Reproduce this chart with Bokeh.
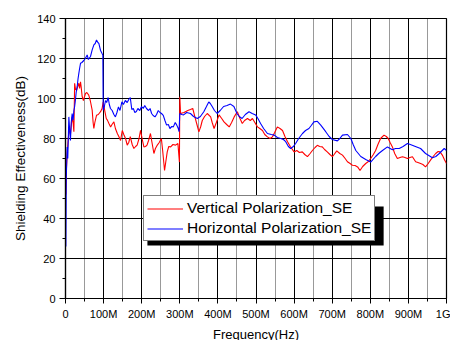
from bokeh.plotting import figure
from bokeh.models import (Range1d, SingleIntervalTicker, Legend, LegendItem,
                          BoxAnnotation)
from bokeh.embed import file_html
from bokeh.resources import INLINE

# ---------------- data (frequency in MHz, SE in dB) ----------------
freq_v = [1, 2.5, 4.4, 6.5, 8.8, 11, 13, 15.5, 17.5, 20, 22, 24, 26, 29, 32, 35, 37, 39.4, 41, 43.8,
          47, 50, 52.5, 56, 61, 65, 70, 72.5, 74.4, 77, 81.4, 86, 92, 96, 99, 103.5, 107, 110, 114,
          118.4, 122, 127, 131, 136, 140, 144.5, 149, 153, 157.6, 162, 166, 170, 175, 179.5, 184,
          188, 193, 197, 201, 205.7, 210, 214, 218, 223, 227, 232, 236, 241, 246, 251.6, 255, 258,
          260, 263, 267, 271, 276, 282, 289, 295, 299, 300, 302, 311, 321, 328, 334, 339.6, 345,
          350, 355, 359, 365, 372, 381, 385, 390, 396, 403, 410, 416, 423, 429.6, 436, 442.7, 451,
          458, 464, 470, 477.6, 485, 490.7, 497, 503.8, 510, 517, 523, 530, 537, 543, 549, 556, 563,
          569.6, 576, 582.8, 590, 600, 607, 614, 621.5, 628, 635, 642, 648, 655, 661, 667, 674, 680,
          687, 694, 700.5, 705, 712, 720, 727, 734, 740, 747, 753, 760, 766.7, 773, 780, 788, 795,
          801, 808, 814, 820, 827, 836, 842, 847, 852, 858, 864, 871, 878, 884.6, 891, 897.5, 904,
          910.6, 919, 925, 932, 938, 945, 952, 958, 965, 971.6, 978, 983, 989, 995, 1000]
se_v = [52, 65, 72.5, 78, 83.4, 84, 82, 87, 90.8, 88, 83.4, 107.6, 105, 104, 106, 107.6, 105, 108.4,
        106, 100.9, 99, 101, 102.5, 103, 101.7, 99, 94.2, 88, 85, 88, 91.6, 92, 93.4, 95, 98.3, 93.4,
        90, 89.2, 87.5, 85.8, 87, 88.3, 85, 82.5, 81, 79, 84, 82, 80, 76.7, 78, 80.9, 77, 75, 76,
        76.7, 80, 84.1, 80, 75.8, 76, 76.7, 79, 82.5, 78, 72.5, 75, 76.7, 78, 80, 74, 68, 64, 68,
        73.3, 76, 75.8, 77, 76.7, 77.5, 68.2, 100.9, 92.5, 93, 94, 94.5, 95, 90.8, 87, 83.3, 86, 89,
        91, 92.5, 90.8, 88, 85, 88, 91.8, 90, 88.3, 87, 85.8, 88, 90.8, 93.4, 90, 87.5, 89, 90, 89,
        90, 88, 85.8, 85, 84, 82, 80.8, 80, 80.8, 83, 85.8, 85, 84, 81, 78.4, 76, 73.3, 74, 73, 73.3,
        72, 70.9, 72.5, 74, 75.5, 76.6, 76, 75.8, 74.5, 73.3, 72, 70.9, 72, 73.8, 72.5, 71.7, 70,
        68.4, 67.5, 66.6, 66.5, 65.8, 64, 66, 67.5, 68.5, 70, 72, 74, 77, 80, 81.7, 81, 80, 78, 75.8,
        72.5, 70, 70.5, 70.9, 70.5, 70, 70.5, 70.9, 68.4, 68, 67.5, 67, 65.8, 67.5, 69.2, 71, 72.5,
        73.5, 73.3, 71.7, 69.2, 67.5]

freq_h = [1, 2, 4.4, 6, 8.8, 11, 13, 15, 17.5, 20, 22, 24, 26, 28, 30.6, 33, 35, 37, 39.4, 43, 48,
          52, 56.9, 60, 65.6, 70, 74.4, 78, 81.4, 85, 87.5, 92, 96, 98, 99, 102, 105, 108, 112, 115,
          118, 122.5, 127, 131, 135, 139, 143, 148, 152, 157, 162, 166, 170, 174, 178, 182, 186, 190,
          195, 199.6, 204, 208, 212.7, 218, 222, 226, 230, 235, 239, 243.5, 248, 252, 256.6, 261,
          265.3, 270, 274, 279, 283, 288, 292, 296, 298, 300, 305, 310, 318, 328, 336, 346, 354, 363,
          370, 376, 380, 385, 391, 398, 406, 415, 424, 433, 442, 450, 456, 463.5, 472, 481.6, 490,
          499, 505, 512, 520, 530, 540, 548, 556, 565, 572, 578, 585, 591, 598, 604, 612, 622, 630,
          639, 645, 652, 661, 670, 683, 692, 700.5, 713.6, 720, 727, 740, 749, 755, 762, 775, 788,
          801, 814, 822, 832, 845, 858, 866, 876, 886, 897.5, 905, 915, 932, 945, 963, 972, 981, 994,
          1000]
se_h = [26, 60, 75.8, 70, 90.8, 84, 79, 88, 92.5, 89, 94, 96, 99.2, 103, 105.9, 110, 112.6, 115,
        117.6, 118, 119, 120, 121.8, 119.5, 121, 124.3, 126.8, 127.5, 129.3, 128, 127.6, 124, 122.5,
        121.8, 94.1, 96, 99, 98, 100.5, 97, 95, 94, 92, 90.8, 93, 95.8, 94, 98.3, 97, 99, 98, 99.5,
        100.5, 94.5, 95, 93, 93.5, 95, 94, 96, 95, 96.5, 95, 94, 95, 92.5, 91.5, 90.8, 92, 94, 93,
        92.5, 91.6, 89, 86.7, 87, 85, 86, 85.8, 88, 86.7, 85, 83.4, 92.5, 92, 91.8, 93, 92.5, 91, 90,
        91, 93.4, 96, 98.3, 97.5, 96, 94, 92.5, 94, 96, 96.5, 97.2, 96, 92.5, 91, 90, 92, 93.4, 92.5,
        91.8, 90, 87.5, 85, 82.5, 82, 81.7, 80.5, 80, 79.5, 78.4, 76, 75, 76, 77.5, 80, 82.5, 84, 85,
        86.5, 88.3, 88.6, 86.7, 83.4, 81, 79.5, 78.8, 80, 81.7, 82, 80, 77, 74, 71, 69.5, 68.2, 71,
        72.5, 74, 75.8, 74.4, 75, 75, 76, 77.5, 77, 76.3, 75, 72.5, 70.4, 71, 72.5, 75, 74]

x_tick_values = [0, 100, 200, 300, 400, 500, 600, 700, 800, 900, 1000]
x_tick_labels = ["0", "100M", "200M", "300M", "400M", "500M", "600M", "700M", "800M", "900M", "1G"]
series_labels = ["Vertical Polarization_SE", "Horizontal Polarization_SE"]

FONT = "Liberation Sans"

p = figure(frame_width=381, frame_height=280, output_backend="svg", toolbar_location=None,
           x_range=Range1d(0, 1000), y_range=Range1d(0, 140),
           min_border_left=65, min_border_right=4, min_border_top=18, min_border_bottom=42)
p.background_fill_color = "white"
p.border_fill_color = "white"
p.outline_line_color = "black"
p.outline_line_width = 1.2

r_v = p.line(freq_v, se_v, line_color="#FF0000", line_width=1.1)
r_h = p.line(freq_h, se_h, line_color="#0000FF", line_width=1.1)

# axes
p.xaxis.ticker = SingleIntervalTicker(interval=100, num_minor_ticks=2)
p.yaxis.ticker = SingleIntervalTicker(interval=20, num_minor_ticks=2)
p.xaxis.major_label_overrides = {v: l for v, l in zip(x_tick_values, x_tick_labels)}
for ax in (p.xaxis[0], p.yaxis[0]):
    ax.axis_line_color = "black"
    ax.axis_line_width = 1.2
    ax.major_tick_line_color = "black"
    ax.minor_tick_line_color = "black"
    ax.major_tick_in = 0
    ax.minor_tick_in = 0
    ax.major_label_text_font = FONT
    ax.major_label_text_font_size = "11px"
    ax.major_label_text_color = "black"
    ax.axis_label_text_font = FONT
    ax.axis_label_text_font_style = "normal"
    ax.axis_label_text_color = "black"
p.xaxis.major_tick_out = 5
p.xaxis.minor_tick_out = 3
p.yaxis.major_tick_out = 6
p.yaxis.minor_tick_out = 3
p.xaxis.major_label_standoff = 4
p.yaxis.major_label_standoff = 4
p.xaxis.axis_label = "Frequency(Hz)"
p.yaxis.axis_label = "Shielding Effectiveness(dB)"
p.xaxis.axis_label_text_font_size = "13px"
p.yaxis.axis_label_text_font_size = "13.5px"
p.xaxis.axis_label_standoff = 4
p.yaxis.axis_label_standoff = 6

# grids
p.xgrid.grid_line_color = "black"
p.xgrid.grid_line_width = 1
p.xgrid.grid_line_alpha = 1
p.xgrid.minor_grid_line_color = "black"
p.xgrid.minor_grid_line_dash = "1 1"
p.xgrid.minor_grid_line_alpha = 0.8
p.ygrid.grid_line_color = "black"
p.ygrid.grid_line_width = 1
p.ygrid.grid_line_alpha = 1

# legend shadow
shadow = BoxAnnotation(left=215, right=835, top=46, bottom=26.5,
                       fill_color="black", fill_alpha=1, line_color=None, level="overlay")
p.add_layout(shadow)

legend = Legend(items=[LegendItem(label=series_labels[0], renderers=[r_v]),
                       LegendItem(label=series_labels[1], renderers=[r_h])],
                location=(78, 57), margin=0, padding=3, spacing=2,
                glyph_width=36, glyph_height=17, label_height=17, label_standoff=4,
                label_text_font=FONT, label_text_font_size="15.5px", label_text_color="black",
                border_line_color="black", border_line_width=1.2,
                background_fill_color="white", background_fill_alpha=1, level="overlay")
p.add_layout(legend)

open("out.html", "w").write(file_html(p, INLINE))
